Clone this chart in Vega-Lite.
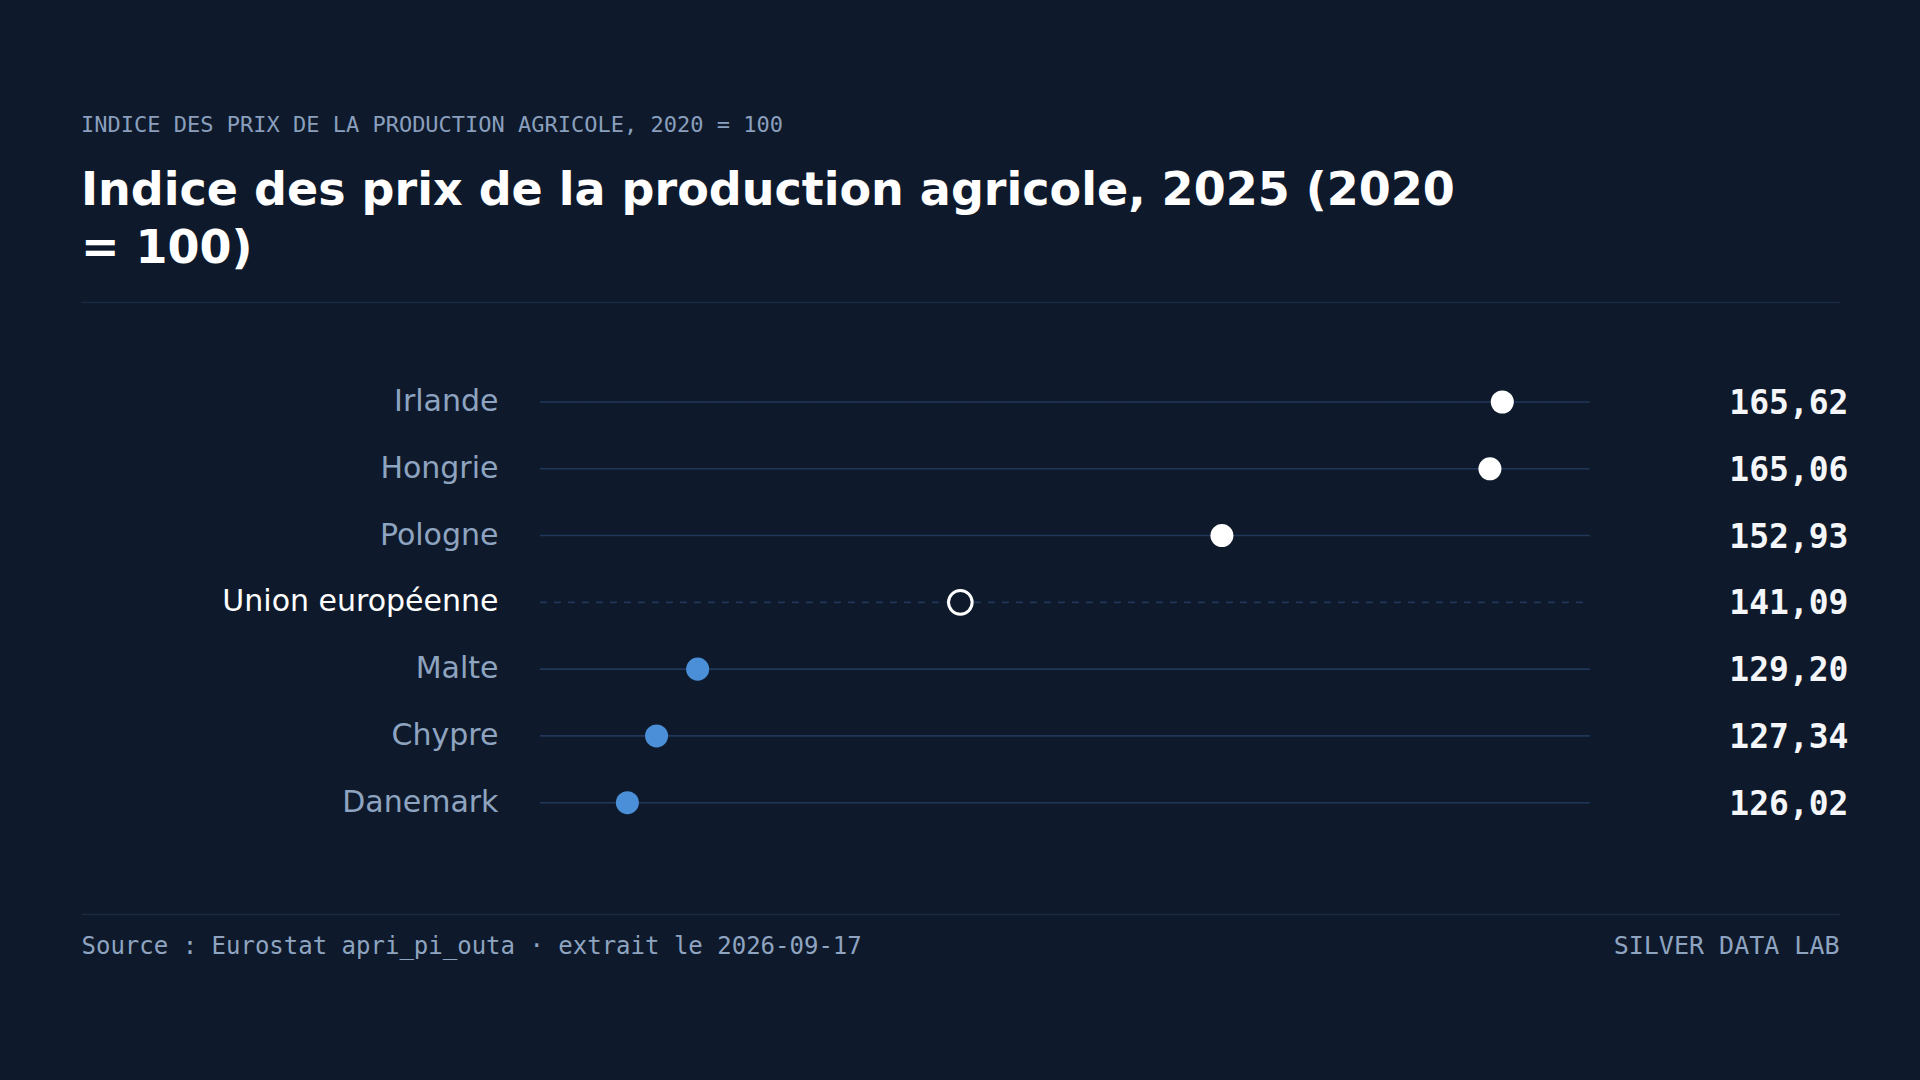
{
  "$schema": "https://vega.github.io/schema/vega-lite/v6.json",
  "width": 1758,
  "height": 612,
  "autosize": {"type": "none"},
  "padding": {"left": 81, "top": 302, "right": 81, "bottom": 166},
  "background": "#0e1a2b",
  "title": {
    "text": "INDICE DES PRIX DE LA PRODUCTION AGRICOLE, 2020 = 100",
    "subtitle": ["Indice des prix de la production agricole, 2025 (2020", "= 100)"],
    "anchor": "start",
    "frame": "group",
    "orient": "top",
    "font": "DejaVu Sans Mono",
    "fontSize": 22,
    "fontWeight": "normal",
    "color": "#8a9fbd",
    "subtitleFont": "DejaVu Sans",
    "subtitleFontSize": 46,
    "subtitleFontWeight": "bold",
    "subtitleColor": "#ffffff",
    "subtitleLineHeight": 58,
    "subtitlePadding": 32,
    "offset": 29
  },
  "data": {
    "values": [
      {"pays": "Irlande", "valeur": 165.62, "groupe": "haut"},
      {"pays": "Hongrie", "valeur": 165.06, "groupe": "haut"},
      {"pays": "Pologne", "valeur": 152.93, "groupe": "haut"},
      {"pays": "Union européenne", "valeur": 141.09, "groupe": "ue"},
      {"pays": "Malte", "valeur": 129.20, "groupe": "bas"},
      {"pays": "Chypre", "valeur": 127.34, "groupe": "bas"},
      {"pays": "Danemark", "valeur": 126.02, "groupe": "bas"}
    ]
  },
  "transform": [
    {"calculate": "datum.pays + '|' + replace(format(datum.valeur, '.2f'), '.', ',')", "as": "cle"}
  ],
  "layer": [
    {
      "mark": {"type": "rule", "color": "#20375a", "strokeWidth": 1.6},
      "encoding": {
        "y": {
          "field": "cle",
          "type": "nominal",
          "sort": {"field": "valeur", "order": "descending"},
          "scale": {"type": "band", "paddingInner": 0, "paddingOuter": 0, "range": [66.6, 534.1], "round": false},
          "axis": {
            "orient": "left",
            "title": null,
            "domain": false,
            "ticks": false,
            "labelExpr": "split(datum.label, '|')[0]",
            "labelFont": "DejaVu Sans",
            "labelFontSize": 30,
            "labelColor": {"condition": {"test": "indexof(datum.value, 'Union') === 0", "value": "#ffffff"}, "value": "#8ea4c0"},
            "labelAlign": "right",
            "labelBaseline": "middle",
            "labelPadding": -417,
            "labelLimit": 0,
            "labelOverlap": false,
            "labelBound": false
          }
        },
        "x": {
          "datum": 122.06,
          "type": "quantitative",
          "scale": {"domain": [101.289, 180.86], "nice": false, "zero": false},
          "axis": {"orient": "top", "title": null, "labels": false, "ticks": false, "grid": false, "domain": true, "domainColor": "#1b2a40", "domainWidth": 1.5}
        },
        "x2": {"datum": 169.58},
        "strokeDash": {"condition": {"test": "datum.groupe === 'ue'", "value": [7, 7]}, "value": [1, 0]}
      }
    },
    {
      "mark": {"type": "point", "filled": true, "shape": "circle", "opacity": 1, "stroke": "#ffffff"},
      "encoding": {
        "x": {
          "field": "valeur",
          "type": "quantitative",
          "scale": {"domain": [101.289, 180.86], "nice": false, "zero": false},
          "axis": {
            "orient": "bottom",
            "labels": false,
            "ticks": false,
            "grid": false,
            "domain": true,
            "domainColor": "#1b2a40",
            "domainWidth": 1.5,
            "title": "Source : Eurostat apri_pi_outa · extrait le 2026-09-17",
            "titleFont": "DejaVu Sans Mono",
            "titleFontSize": 24,
            "titleFontWeight": "normal",
            "titleColor": "#8ea4c0",
            "titleX": 0,
            "titleY": 39,
            "titleAlign": "left",
            "titleAnchor": "start",
            "titleBaseline": "alphabetic"
          }
        },
        "y": {
          "field": "cle",
          "type": "nominal",
          "sort": {"field": "valeur", "order": "descending"},
          "scale": {"type": "band", "paddingInner": 0, "paddingOuter": 0, "range": [66.6, 534.1], "round": false},
          "axis": {
            "orient": "right",
            "domain": false,
            "ticks": false,
            "labelExpr": "split(datum.label, '|')[1]",
            "labelFont": "DejaVu Sans Mono",
            "labelFontWeight": "bold",
            "labelFontSize": 33,
            "labelColor": "#f4f6fa",
            "labelAlign": "right",
            "labelBaseline": "middle",
            "labelPadding": 9,
            "labelOffset": 2,
            "labelLimit": 0,
            "labelOverlap": false,
            "title": "SILVER DATA LAB",
            "titleFont": "DejaVu Sans Mono",
            "titleFontSize": 25,
            "titleFontWeight": "normal",
            "titleColor": "#8ea4c0",
            "titleX": 0,
            "titleY": 651,
            "titleAngle": 0,
            "titleAlign": "right",
            "titleBaseline": "alphabetic"
          }
        },
        "fill": {
          "field": "groupe",
          "type": "nominal",
          "scale": {"domain": ["haut", "ue", "bas"], "range": ["#ffffff", "#0e1a2b", "#4a8fd8"]},
          "legend": null
        },
        "strokeWidth": {"condition": {"test": "datum.groupe === 'ue'", "value": 3}, "value": 0},
        "size": {"condition": {"test": "datum.groupe === 'ue'", "value": 560}, "value": 530}
      }
    }
  ],
  "resolve": {"axis": {"x": "independent", "y": "independent"}},
  "config": {"view": {"stroke": null}, "axis": {"grid": false}}
}
